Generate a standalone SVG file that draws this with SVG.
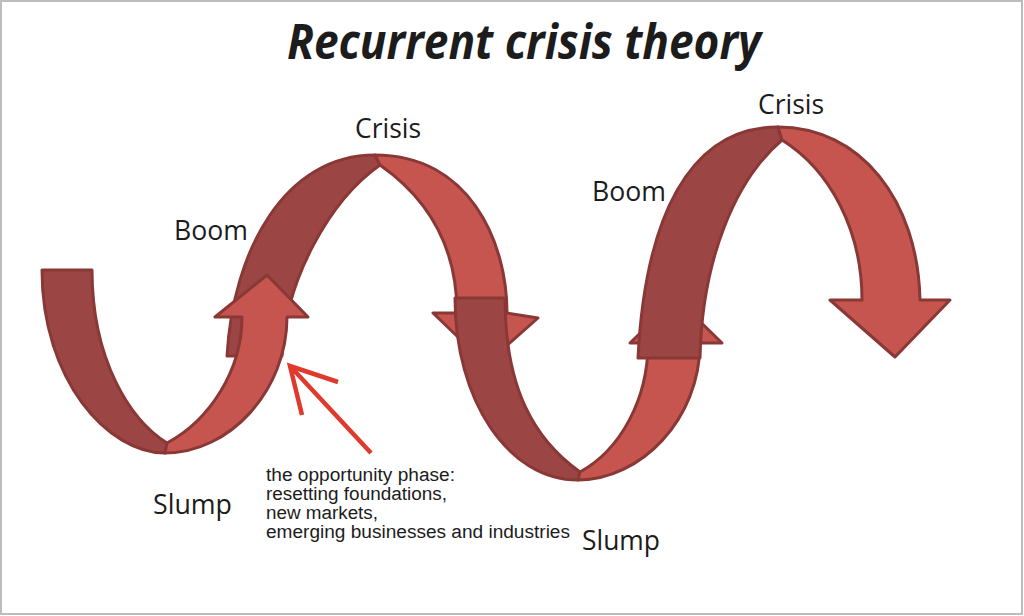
<svg xmlns="http://www.w3.org/2000/svg" width="1024" height="616" viewBox="0 0 1024 616">
<style>
.back{fill:#9B4644;stroke:#8A3836;stroke-width:3;stroke-linejoin:round}
.front{fill:#C6554F;stroke:#8A3836;stroke-width:3;stroke-linejoin:round}
.lbl{font-family:"Open Sans","Liberation Sans",sans-serif;font-size:28px;fill:#1c1c1c}
.note{font-family:"Liberation Sans",Arial,sans-serif;font-size:18px;fill:#1c1c1c}
.title{font-family:"Open Sans","Liberation Sans",sans-serif;font-size:48px;font-weight:bold;font-style:italic;fill:#1c1c1c}
</style>
<rect x="1" y="1" width="1021" height="613" fill="#ffffff" stroke="#bdbdbd" stroke-width="2"/>
<text class="title" x="287" y="59" textLength="474" lengthAdjust="spacingAndGlyphs">Recurrent crisis theory</text>

<g id="arch1">
<path class="back" d="M227,356 C233,250 285,155 375,155 L380,165 C330,200 285,280 282,356 Z"/>
<path class="front" d="M375,155 C468,155 507,240 507,313 L538,318 L486,364 L433,313 L457,313 C457,250 430,200 380,165 Z"/>
</g>

<g id="u1">
<path class="back" d="M42,270 L92,270 C92,360 130,420 167,443 L165,453 C108,453 42,380 42,270 Z"/>
<path class="front" d="M165,453 C230,453 287,390 287,317 L308,317 L267,275 L215,317 L242,317 C242,370 210,420 167,443 Z"/>
</g>

<g id="u2">
<path class="back" d="M455,298 L505,298 C505,390 535,440 580,472 L578,480 C508,480 455,400 455,298 Z"/>
<path class="front" d="M578,480 C640,480 700,420 700,343 L722,343 L676,298 L630,343 L648,343 C648,400 620,450 580,472 Z"/>
</g>

<g id="arch2">
<path class="back" d="M638,358 C645,220 688,127 778,127 L782,140 C735,180 702,260 700,358 Z"/>
<path class="front" d="M778,127 C860,127 918,200 920,300 L950,300 L895,357 L830,300 L862,300 C862,230 830,170 782,140 Z"/>
</g>

<g id="connectors">
<line x1="371" y1="453" x2="290" y2="366" stroke="#E03A2C" stroke-width="4.5"/>
<polyline points="338,382 290,366 302,415" fill="none" stroke="#E03A2C" stroke-width="4.5" stroke-linejoin="miter"/>
</g>

<g id="labels">
<text class="lbl" x="355" y="138" textLength="66" lengthAdjust="spacingAndGlyphs">Crisis</text>
<text class="lbl" x="174" y="240" textLength="74" lengthAdjust="spacingAndGlyphs">Boom</text>
<text class="lbl" x="758" y="114" textLength="66" lengthAdjust="spacingAndGlyphs">Crisis</text>
<text class="lbl" x="592" y="201" textLength="74" lengthAdjust="spacingAndGlyphs">Boom</text>
<text class="lbl" x="153" y="514" textLength="79" lengthAdjust="spacingAndGlyphs">Slump</text>
<text class="lbl" x="582" y="550" textLength="78" lengthAdjust="spacingAndGlyphs">Slump</text>
</g>

<g id="note">
<text class="note" x="266" y="481" textLength="189" lengthAdjust="spacingAndGlyphs">the opportunity phase:</text>
<text class="note" x="266" y="500" textLength="181" lengthAdjust="spacingAndGlyphs">resetting foundations,</text>
<text class="note" x="266" y="519" textLength="112" lengthAdjust="spacingAndGlyphs">new markets,</text>
<text class="note" x="266" y="538" textLength="304" lengthAdjust="spacingAndGlyphs">emerging businesses and industries</text>
</g>
</svg>
